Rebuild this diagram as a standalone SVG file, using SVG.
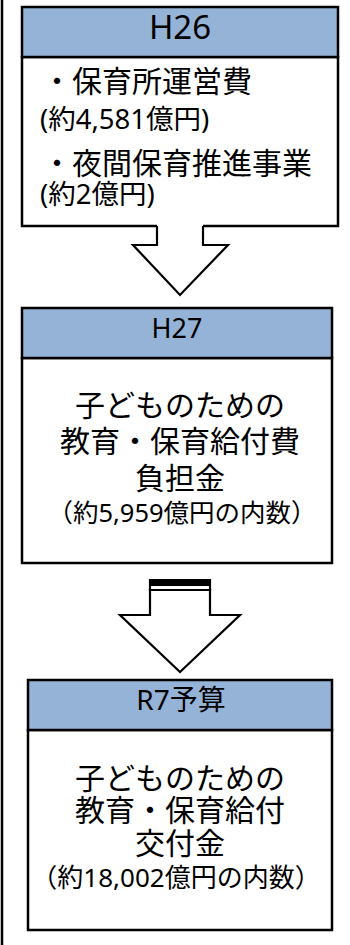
<svg xmlns="http://www.w3.org/2000/svg" width="350" height="945" viewBox="0 0 350 945">
<style>
.hdr{fill:#95B3D7;stroke:#000;stroke-width:2.5}
.body{fill:#fff;stroke:#000;stroke-width:2.5}
.t{font-family:"Noto Sans","Noto Sans CJK JP",sans-serif;fill:#000}
.arr{fill:#fff;stroke:#000;stroke-width:2.2;stroke-linejoin:miter}
</style>
<rect width="350" height="945" fill="#fff"/>
<line x1="2" y1="0" x2="2" y2="945" stroke="#000" stroke-width="2.5"/>
<g id="h26">
<rect class="body" x="22" y="57" width="316" height="169"/>
<rect class="hdr" x="22" y="7" width="316" height="50"/>
<text class="t" x="180" y="39" font-size="33" text-anchor="middle">H26</text>
<text class="t" x="42" y="92" font-size="30">・保育所運営費</text>
<text class="t" x="40" y="129" font-size="27.5">(約4,581億円)</text>
<text class="t" x="42" y="174" font-size="30">・夜間保育推進事業</text>
<text class="t" x="40" y="204" font-size="27.5">(約2億円)</text>
</g>
<g id="h27">
<rect class="body" x="22" y="358" width="310" height="205"/>
<rect class="hdr" x="22" y="308" width="310" height="50"/>
<text class="t" x="177" y="338" font-size="27" text-anchor="middle">H27</text>
<text class="t" x="180" y="416" font-size="30" text-anchor="middle">子どものための</text>
<text class="t" x="180" y="452" font-size="30" text-anchor="middle">教育・保育給付費</text>
<text class="t" x="180" y="489" font-size="30" text-anchor="middle">負担金</text>
<text class="t" x="182" y="522" font-size="25.5" text-anchor="middle">（約5,959億円の内数）</text>
</g>
<g id="r7">
<rect class="body" x="28" y="730" width="304" height="200"/>
<rect class="hdr" x="28" y="680" width="304" height="50"/>
<text class="t" x="181" y="710" font-size="28" text-anchor="middle">R7予算</text>
<text class="t" x="180" y="789" font-size="30" text-anchor="middle">子どものための</text>
<text class="t" x="180" y="821" font-size="30" text-anchor="middle">教育・保育給付</text>
<text class="t" x="180" y="854" font-size="30" text-anchor="middle">交付金</text>
<text class="t" x="176" y="887" font-size="26" text-anchor="middle">（約18,002億円の内数）</text>
</g>
<g id="connectors">
<g id="arrow1">
<polygon points="157,224 157,245 133,245 180,295 228,245 203,245 203,224" fill="#fff"/>
<polyline class="arr" points="157,226 157,245 133,245 180,295 228,245 203,245 203,226"/>
</g>
<g id="arrow2">
<polygon class="arr" points="150,590 150,615 120,615 180,672 240,615 210,615 210,590"/>
<rect x="150" y="579" width="60" height="7" fill="#000"/>
<line x1="150" y1="579" x2="150" y2="591" stroke="#000" stroke-width="2.2"/>
<line x1="210" y1="579" x2="210" y2="591" stroke="#000" stroke-width="2.2"/>
</g>
</g>
</svg>
